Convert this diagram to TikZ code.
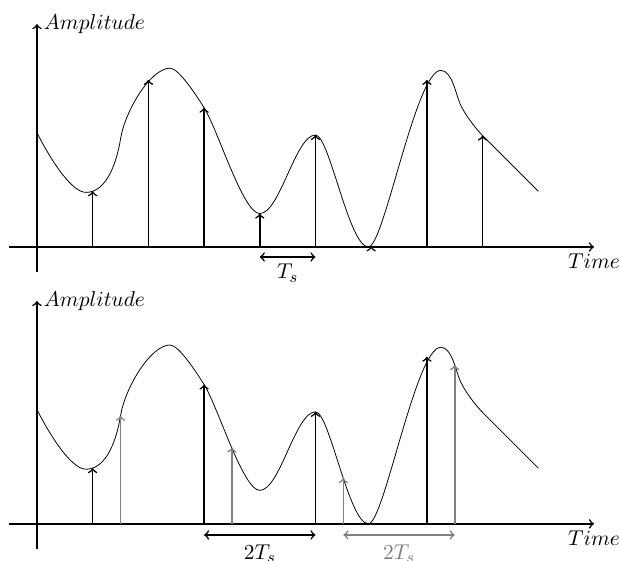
\documentclass[tikz,border=0pt]{standalone}
\usetikzlibrary{arrows.meta,positioning,calc}
% the analogue signal, used in both panels
\newcommand{\SigCurve}{(0,2.05)
  .. controls +(0.15,-0.3) and +(-0.3,0) .. (0.88,0.98)
  .. controls +(0.3,0) and +(-0.1,-0.6) .. (1.5,1.94)
  .. controls +(0.08,0.5) and +(-0.35,0) .. (2.39,3.21)
  .. controls +(0.15,0) and +(-0.15,0.24) .. (3,2.5)
  .. controls +(0.25,-0.4) and +(-0.3,0) .. (4,0.6)
  .. controls +(0.36,0) and +(-0.36,0) .. (5,2.01)
  .. controls +(0.25,0) and +(-0.35,0) .. (5.95,0)
  .. controls +(0.28,0) and +(-0.45,0) .. (7.25,3.17)
  .. controls +(0.2,0) and +(-0.08,0.18) .. (7.6,2.56)
  .. controls +(0.08,-0.18) and +(-0.12,0.12) .. (8,2)
  -- (9,1)}

\begin{document}
\begin{tikzpicture}[>=to, font=\fontsize{11}{13}\selectfont]
  \tikzset{axis/.style={->, thick},
           smp/.style={->, thick},
           smpgray/.style={->, thick, gray},
           period/.style={<->, thick}}
  \useasboundingbox (-0.664,-0.664) rectangle (10.467,9.404);

  % top: every sample taken
  \begin{scope}[yshift=4.97cm]
    \coordinate (ya1) at (0,-0.45);
    \coordinate (xa1) at (-0.5,0);
    \draw[axis] (xa1) -- (10,0) coordinate (t1);
    \draw[axis] (ya1) -- (0,4) coordinate (a1);
    \node[right] (amp1) at (a1) {$Amplitude$};
    \node[below] (time1) at (t1) {$Time$};
    \draw \SigCurve;
    \foreach \t/\v in {1/1.0, 2/3.0, 3/2.5, 4/0.6, 5/2.01, 6/0.01, 7/3.0, 8/2.0}
      \draw[smp] (\t,0) -- (\t,\v);
    \coordinate (p4) at (4,-0.18);
    \coordinate (p5) at (5,-0.18);
    \draw[period] (p4) -- node[below] (ts) {$T_s$} (p5);
  \end{scope}

  % bottom: samples split in two interleaved sets
  \coordinate (ya2) at (0,-0.45);
  \coordinate (xa2) at (-0.5,0);
  \draw[axis] (xa2) -- (10,0) coordinate (t2);
  \draw[axis] (ya2) -- (0,4) coordinate (a2);
  \node[right] (amp2) at (a2) {$Amplitude$};
  \node[below] (time2) at (t2) {$Time$};
  \draw \SigCurve;
  \foreach \t/\v in {1/1.0, 3/2.5, 5/2.01, 7/3.0}
    \draw[smp] (\t,0) -- (\t,\v);
  \foreach \t/\v in {1.5/1.94, 3.5/1.37, 5.5/0.82, 7.5/2.85}
    \draw[smpgray] (\t,0) -- (\t,\v);

  \coordinate (q3) at (3,-0.2);
  \coordinate (q5) at (5,-0.2);
  \coordinate (g55) at (5.5,-0.2);
  \coordinate (g75) at (7.5,-0.2);
  \draw[period] (q3) -- node[below, yshift=-0.5mm] (tsb) {$2T_s$} (q5);
  \draw[period, gray] (g55) -- node[below, yshift=-0.5mm] (tsg) {$2T_s$} (g75);
\end{tikzpicture}
\end{document}
